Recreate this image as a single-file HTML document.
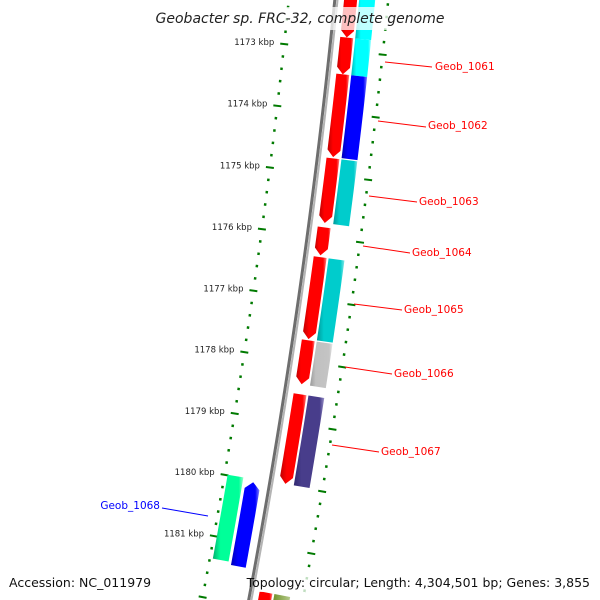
<!DOCTYPE html>
<html><head><meta charset="utf-8"><style>
html,body{margin:0;padding:0;background:#fff;width:600px;height:600px;overflow:hidden;}
svg{display:block;font-family:"DejaVu Sans","Liberation Sans",sans-serif;overflow:hidden;}
</style></head><body>
<svg id="map" width="600" height="600" viewBox="0 0 600 600" xmlns="http://www.w3.org/2000/svg">
<defs>
<linearGradient id="gRed" x1="0" x2="1" y1="0" y2="0"><stop offset="0" stop-color="#c00000"/><stop offset="0.25" stop-color="#ff0000"/><stop offset="0.85" stop-color="#ff0000"/><stop offset="1" stop-color="#ff8080"/></linearGradient>
<linearGradient id="gCyan" x1="0" x2="1"><stop offset="0" stop-color="#00b8b8"/><stop offset="0.25" stop-color="#00ffff"/><stop offset="0.85" stop-color="#00ffff"/><stop offset="1" stop-color="#a0ffff"/></linearGradient>
<linearGradient id="gBlue" x1="0" x2="1"><stop offset="0" stop-color="#0000b8"/><stop offset="0.25" stop-color="#0000ff"/><stop offset="0.85" stop-color="#0000ff"/><stop offset="1" stop-color="#8080ff"/></linearGradient>
<linearGradient id="gTeal" x1="0" x2="1"><stop offset="0" stop-color="#009898"/><stop offset="0.25" stop-color="#00cccc"/><stop offset="0.85" stop-color="#00cccc"/><stop offset="1" stop-color="#80e6e6"/></linearGradient>
<linearGradient id="gGray" x1="0" x2="1"><stop offset="0" stop-color="#9a9a9a"/><stop offset="0.25" stop-color="#c0c0c0"/><stop offset="0.85" stop-color="#c4c4c4"/><stop offset="1" stop-color="#e8e8e8"/></linearGradient>
<linearGradient id="gSlate" x1="0" x2="1"><stop offset="0" stop-color="#302870"/><stop offset="0.25" stop-color="#483d8b"/><stop offset="0.85" stop-color="#483d8b"/><stop offset="1" stop-color="#9a92c8"/></linearGradient>
<linearGradient id="gSpring" x1="0" x2="1"><stop offset="0" stop-color="#00b070"/><stop offset="0.25" stop-color="#00ff99"/><stop offset="0.85" stop-color="#00ff99"/><stop offset="1" stop-color="#99ffcc"/></linearGradient>
<linearGradient id="gOlive" x1="0" x2="1"><stop offset="0" stop-color="#4f6b10"/><stop offset="0.25" stop-color="#6b8e23"/><stop offset="1" stop-color="#b5c98a"/></linearGradient>
</defs>
<g id="layer"></g>
<g font-size="10.5">
<line x1="385" y1="62" x2="432" y2="67" stroke="#ff0000" stroke-width="1"/>
<text x="435" y="70" fill="#ff0000">Geob_1061</text>
<line x1="378" y1="121" x2="426" y2="127" stroke="#ff0000" stroke-width="1"/>
<text x="428" y="129" fill="#ff0000">Geob_1062</text>
<line x1="369" y1="196" x2="417" y2="202" stroke="#ff0000" stroke-width="1"/>
<text x="419" y="205" fill="#ff0000">Geob_1063</text>
<line x1="363" y1="246" x2="410" y2="253" stroke="#ff0000" stroke-width="1"/>
<text x="412" y="256" fill="#ff0000">Geob_1064</text>
<line x1="354" y1="304" x2="402" y2="310" stroke="#ff0000" stroke-width="1"/>
<text x="404" y="313" fill="#ff0000">Geob_1065</text>
<line x1="345" y1="367" x2="392" y2="374" stroke="#ff0000" stroke-width="1"/>
<text x="394" y="377" fill="#ff0000">Geob_1066</text>
<line x1="332" y1="445" x2="379" y2="452" stroke="#ff0000" stroke-width="1"/>
<text x="381" y="455" fill="#ff0000">Geob_1067</text>
<line x1="162" y1="508" x2="208" y2="516" stroke="#0000ff" stroke-width="1"/>
<text x="160" y="509" fill="#0000ff" text-anchor="end">Geob_1068</text>
</g>
<rect x="150" y="7" width="300" height="23" fill="#fff" opacity="0.75"/>
<text x="300" y="23" text-anchor="middle" font-size="14" font-style="italic" fill="#222">Geobacter sp. FRC-32, complete genome</text>
<rect x="5" y="572" width="120" height="20" fill="#fff" opacity="0.75"/>
<text x="9" y="587" font-size="12.5" fill="#111">Accession: NC_011979</text>
<rect x="258" y="572" width="338" height="20" fill="#fff" opacity="0.75"/>
<text x="590" y="587" text-anchor="end" font-size="12.5" fill="#111">Topology: circular; Length: 4,304,501 bp; Genes: 3,855</text>
</svg>
<script>
// ---- data ----
const fwdNames = ["Geob_1060","Geob_1061","Geob_1062","Geob_1063","Geob_1064","Geob_1065","Geob_1066","Geob_1067","Geob_next"];
const fwdStart = [1171.76,1172.79,1173.38,1174.73,1175.84,1176.32,1177.66,1178.53,1181.74];
const fwdEnd   = [1172.79,1173.38,1174.71,1175.77,1176.29,1177.64,1178.37,1179.98,1182.5];
const fwdCog   = ["gCyan","gCyan","gBlue","gTeal","","gTeal","gGray","gSlate","gOlive"];
const revNames = ["Geob_1068"];
const revStart = [1180.04];
const revEnd   = [1181.41];
const revCog   = ["gSpring"];
const revCds   = ["gBlue"];
const tickLabels = [1173,1174,1175,1176,1177,1178,1179,1180,1181];

// ---- geometry (axis functions) ----
const CX=-6689, CY=-702, R=7060;
const TH0=0.10659, DTH=0.008859;
function ang(k){return TH0+(k-1173)*DTH;}
function pt(k,r){const a=ang(k);return [CX+r*Math.cos(a), CY+r*Math.sin(a)];}
const NS="http://www.w3.org/2000/svg";
const layer=document.getElementById('layer');
function mk(tag,attrs){const e=document.createElementNS(NS,tag);for(const k in attrs)e.setAttribute(k,attrs[k]);layer.appendChild(e);return e;}
function arcPath(k1,k2,r1,r2,arrow){
  const head=7/(R*DTH);
  let a=k1,b=k2;
  if(arrow==='end') b=Math.max(k1,k2-head);
  if(arrow==='start') a=Math.min(k2,k1+head);
  const pts=[];const n=24;
  for(let i=0;i<=n;i++){pts.push(pt(a+(b-a)*i/n,r1));}
  if(arrow==='end') pts.push(pt(k2,(r1+r2)/2));
  for(let i=n;i>=0;i--){pts.push(pt(a+(b-a)*i/n,r2));}
  if(arrow==='start') pts.push(pt(k1,(r1+r2)/2));
  return 'M'+pts.map(p=>p[0].toFixed(2)+','+p[1].toFixed(2)).join('L')+'Z';
}
// backbone
(function(){
  const p1=[],p2=[];
  for(let k=1171;k<=1183;k+=0.25){p1.push(pt(k,R-1.2));p2.push(pt(k,R+1.5));}
  let e=mk('path',{d:'M'+p1.map(p=>p.join(',')).join('L'),fill:'none',stroke:'#6e6e6e','stroke-width':3});
  
  
  e=mk('path',{d:'M'+p2.map(p=>p.join(',')).join('L'),fill:'none',stroke:'#b4b4b4','stroke-width':2});
  
  
})();
// ticks
for(let i=0;i<=60;i++){
  const k=1171+i*0.2;
  const major=Math.abs(k-Math.round(k))<0.01;
  [[R-47,-1],[R+52,1]].forEach(([rr,s])=>{
    const len=major?8:2.5;
    const a=pt(k,rr-len/2), b=pt(k,rr+len/2);
    const e=mk('line',{x1:a[0],y1:a[1],x2:b[0],y2:b[1],stroke:'#007a00','stroke-width':major?2:2.5});
    
    
  });
}
tickLabels.forEach(k=>{
  const p=pt(k,R-57);
  const t=mk('text',{x:p[0],y:p[1]+2,'text-anchor':'end','font-size':'8.5',fill:'#222'});
  t.textContent=k+' kbp';
  
  
});
// forward genes
fwdStart.forEach((s,i)=>{
  const e=mk('path',{d:arcPath(s,fwdEnd[i],R+8,R+21,'end'),fill:'url(#gRed)'});
  
  
  if(fwdCog[i]){
    const c=mk('path',{d:arcPath(s,fwdEnd[i],R+23,R+39,null),fill:'url(#'+fwdCog[i]+')'});
    
    
  }
});
// reverse genes
revStart.forEach((s,i)=>{
  const e=mk('path',{d:arcPath(s,revEnd[i],R-25,R-10,'start'),fill:'url(#'+revCds[i]+')'});
  
  
  const c=mk('path',{d:arcPath(s-0.05,revEnd[i]-0.05,R-44,R-28,null),fill:'url(#'+revCog[i]+')'});
  
  
});
</script>
</body></html>
